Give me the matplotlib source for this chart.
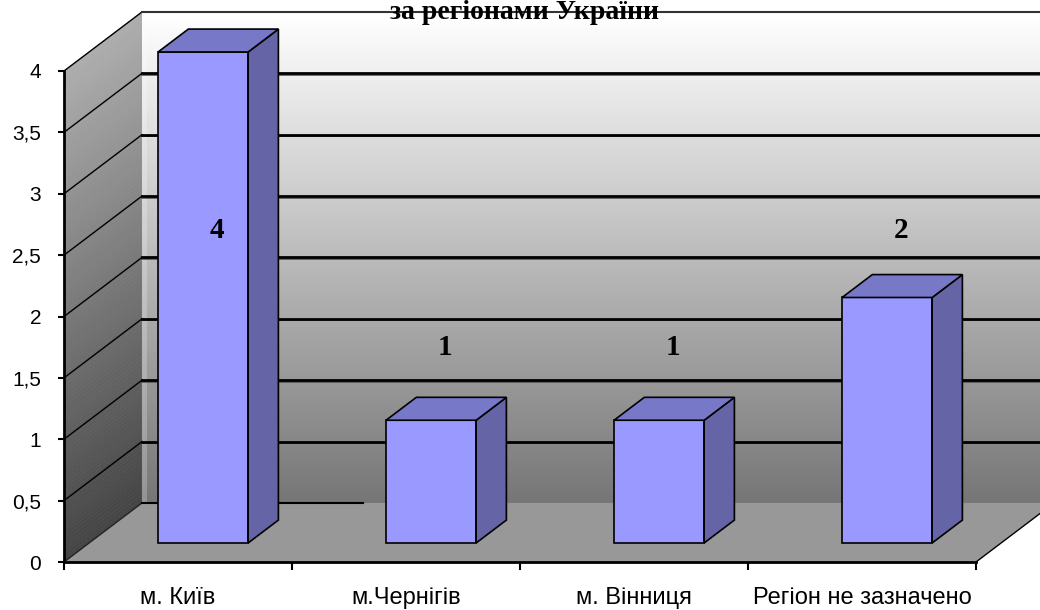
import numpy as np
import matplotlib
matplotlib.use('Agg')
import matplotlib.pyplot as plt
from matplotlib.patches import Polygon, Rectangle
from matplotlib.colors import to_rgb

# дані
categories = ['м. Київ', 'м.Чернігів', 'м. Вінниця', 'Регіон не зазначено']
values = [4, 1, 1, 2]
y_ticks = [0, 0.5, 1, 1.5, 2, 2.5, 3, 3.5, 4]
title = 'за регіонами України'

plt.rcParams['font.family'] = ['Liberation Sans', 'DejaVu Sans']

# геометрія псевдо-3D (у одиницях осей)
ymax = 4
dx, dy = 0.342, 0.481          # глибина стін
f1, f2 = 0.322, 0.71           # передня/задня грань стовпця по глибині
bw = 0.395                     # ширина стовпця
n_bands = 120

fig = plt.figure(figsize=(10.4, 6.1), dpi=100)
ax = fig.add_axes([64 / 1040, 48 / 610, 912 / 1040, 491 / 610])
ax.set_xlim(0, len(categories))
ax.set_ylim(0, ymax)
ax.patch.set_visible(False)


def mix(c0, c1, t):
    a, b = np.array(to_rgb(c0)), np.array(to_rgb(c1))
    return tuple(a + (b - a) * t)


ncat = len(categories)
# задня стіна з градієнтом
for k in range(n_bands):
    y0 = ymax * k / n_bands
    y1 = ymax * (k + 1) / n_bands
    ax.add_patch(Rectangle((dx, y0 + dy), ncat + 0.2, y1 - y0 + 0.005,
                           facecolor=mix('#767676', '#ffffff', k / (n_bands - 1)),
                           edgecolor='none', clip_on=False, zorder=1))
ax.add_patch(Rectangle((dx, dy), 0.022, ymax, facecolor='white', alpha=0.22,
                       edgecolor='none', clip_on=False, zorder=1.1))

# бічна стіна
for k in range(n_bands):
    y0 = ymax * k / n_bands
    y1 = ymax * (k + 1) / n_bands + 0.005
    ax.add_patch(Polygon([(0, y0), (dx, y0 + dy), (dx, y1 + dy), (0, y1)],
                         closed=True, facecolor=mix('#454545', '#adadad', k / (n_bands - 1)),
                         edgecolor='none', clip_on=False, zorder=2))

# підлога
ax.add_patch(Polygon([(0, 0), (ncat, 0), (ncat + dx, dy), (dx, dy)], closed=True,
                     facecolor='#989898', edgecolor='none', clip_on=False, zorder=3))
ax.plot([ncat, ncat + dx], [0, dy], color='black', lw=1, clip_on=False, zorder=3.5)
ax.plot([0, dx], [0, dy], color='#222222', lw=1, clip_on=False, zorder=3.5)
ax.plot([dx, 1.31], [dy, dy], color='black', lw=1.5, clip_on=False, zorder=3.5)

# сітка
for v in y_ticks[1:]:
    if v < ymax:
        ax.plot([dx, ncat + dx + 0.2], [v + dy - 0.012, v + dy - 0.012], color='#555555',
                lw=1.2, clip_on=False, zorder=3.4)
        ax.plot([dx, ncat + dx + 0.2], [v + dy, v + dy], color='black', lw=2,
                clip_on=False, zorder=3.5)
    ax.plot([0, dx], [v, v + dy], color='black', lw=1, clip_on=False, zorder=3.5)
ax.plot([dx, ncat + dx + 0.2], [ymax + dy, ymax + dy], color='#333333', lw=1.5,
        clip_on=False, zorder=3.5)

# стовпці
ddx, ddy = (f2 - f1) * dx, (f2 - f1) * dy
for i, h in enumerate(values):
    xl = i + 0.5 - bw / 2 + f1 * dx
    yb = f1 * dy
    ax.add_patch(Rectangle((xl, yb), bw, h, facecolor='#9999ff', edgecolor='black',
                           lw=1.2, clip_on=False, zorder=5))
    ax.add_patch(Polygon([(xl + bw, yb), (xl + bw + ddx, yb + ddy),
                          (xl + bw + ddx, yb + h + ddy), (xl + bw, yb + h)], closed=True,
                         facecolor='#6464a6', edgecolor='black', lw=1.2, clip_on=False, zorder=5))
    ax.add_patch(Polygon([(xl, yb + h), (xl + bw, yb + h), (xl + bw + ddx, yb + h + ddy),
                          (xl + ddx, yb + h + ddy)], closed=True,
                         facecolor='#7878c8', edgecolor='black', lw=1.2, clip_on=False, zorder=5))
    ax.text(i + 0.67, min(h + 0.745, 2.70), f'{h}', ha='center', va='center',
            family=['Liberation Serif', 'DejaVu Serif'], fontweight='bold', fontsize=21,
            zorder=6)

# осі
for s in ['top', 'right']:
    ax.spines[s].set_visible(False)
for s in ['left', 'bottom']:
    ax.spines[s].set_linewidth(2)
    ax.spines[s].set_zorder(7)
ax.set_yticks(y_ticks)
ax.set_yticklabels([f'{v:g}'.replace('.', ',') for v in y_ticks])
ax.tick_params(axis='y', direction='out', length=4.5, width=1.5, pad=12, labelsize=15)
ax.set_xticks(range(ncat + 1))
ax.set_xticklabels([])
ax.set_xticks([i + 0.5 for i in range(ncat)], minor=True)
ax.set_xticklabels(categories, minor=True)
ax.tick_params(axis='x', which='major', direction='out', length=6, width=1.5)
ax.tick_params(axis='x', which='minor', length=0, pad=18, labelsize=17)

fig.text(525 / 1040, (610 - 19) / 610, title, ha='center', va='baseline',
         family=['Liberation Serif', 'DejaVu Serif'], fontweight='bold', fontsize=20,
         zorder=10)

fig.savefig('out.png', dpi=100)
